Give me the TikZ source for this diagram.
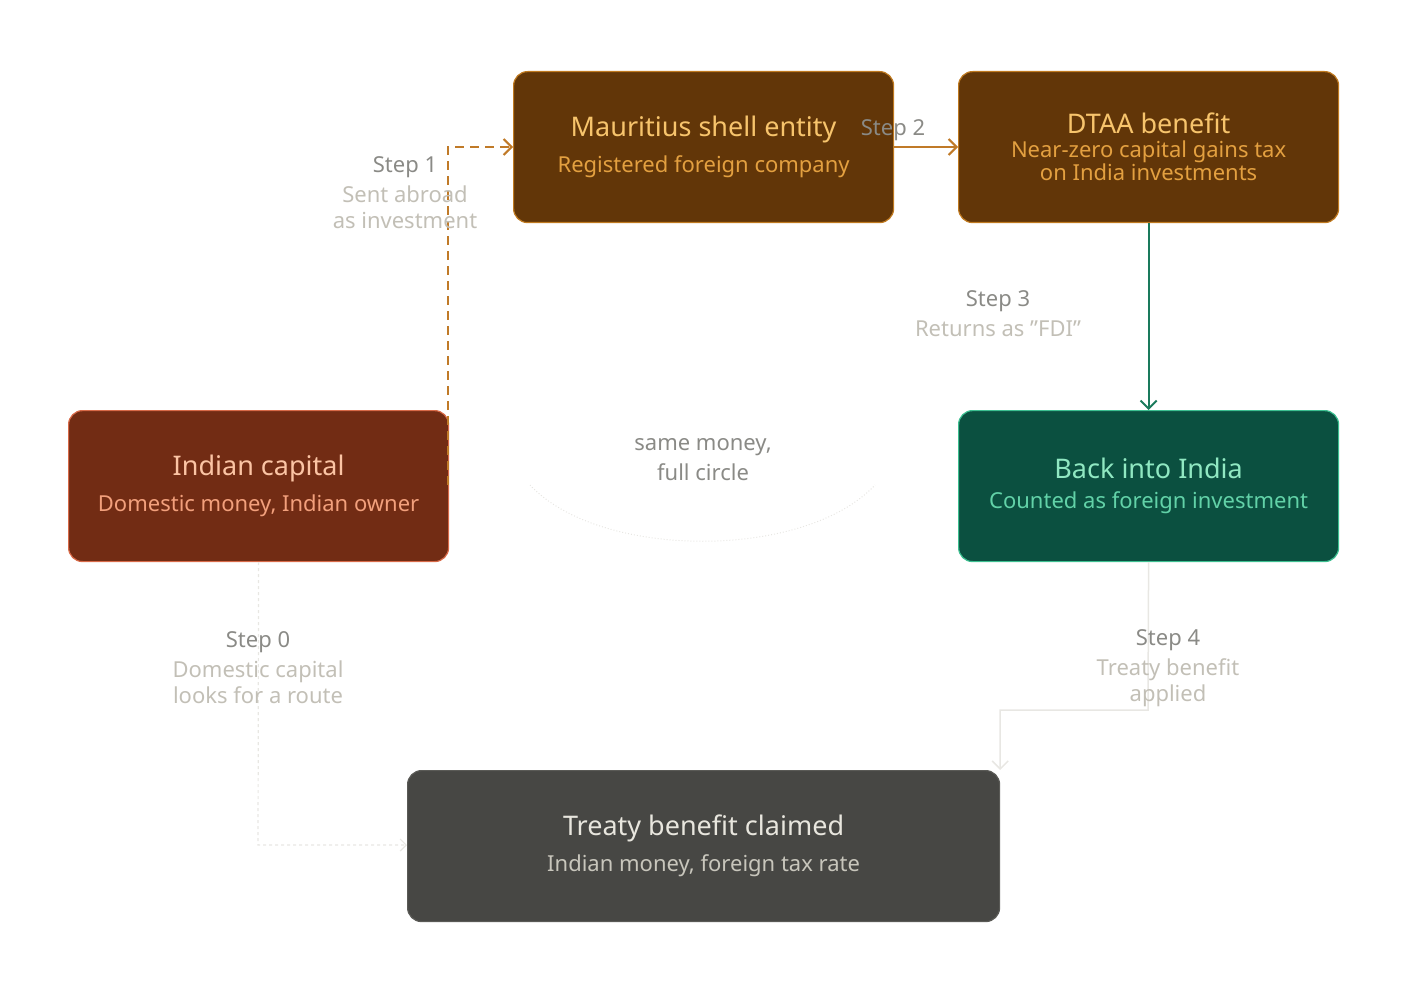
\documentclass[tikz,border=0pt]{standalone}
\usepackage{fontspec}
\setmainfont{Noto Sans}
\usetikzlibrary{arrows.meta}
\definecolor{orbox}{HTML}{623608}\definecolor{orline}{HTML}{C07A20}
\definecolor{ortit}{HTML}{F7C46C}\definecolor{orsub}{HTML}{E3A040}
\definecolor{rdbox}{HTML}{722C14}\definecolor{rdline}{HTML}{D86A48}
\definecolor{rdtit}{HTML}{FBC4A4}\definecolor{rdsub}{HTML}{F2A07C}
\definecolor{gnbox}{HTML}{0B5040}\definecolor{gnline}{HTML}{3CBF90}
\definecolor{gntit}{HTML}{90E8C2}\definecolor{gnsub}{HTML}{62D2A8}
\definecolor{gybox}{HTML}{474744}\definecolor{gyline}{HTML}{5A5A56}
\definecolor{gytit}{HTML}{E8E6DE}\definecolor{gysub}{HTML}{C8C6BC}
\definecolor{lblA}{HTML}{8A8A86}\definecolor{lblB}{HTML}{C2BFB6}
\definecolor{faint}{HTML}{E8E7E3}\definecolor{arrO}{HTML}{C07A28}\definecolor{arrG}{HTML}{1A7A5C}
\tikzset{x=1pt,y=-1pt,
 box/.style={draw=#1line,fill=#1box,rounded corners=14pt,line width=1.2pt,minimum width=380pt,minimum height=151pt,anchor=north west,align=center,inner sep=0pt},
 tt/.style={font=\fontsize{27}{32}\selectfont\bfseries},
 ss/.style={font=\fontsize{22}{30}\selectfont},
 lbl/.style={font=\fontsize{22}{30}\selectfont,align=center}}
\begin{document}
\begin{tikzpicture}
\useasboundingbox (0,0) rectangle (1408,981);
\node[box=or] (maur) at (513,71) {\textcolor{ortit}{\fontsize{27}{32}\selectfont\bfseries Mauritius shell entity}\\[12pt]\textcolor{orsub}{\fontsize{22}{28}\selectfont Registered foreign company}};
\node[box=or] (dtaa) at (958,71) {\textcolor{ortit}{\fontsize{27}{32}\selectfont\bfseries DTAA benefit}\\[6pt]\textcolor{orsub}{\fontsize{22}{38}\selectfont Near-zero capital gains tax}\\\textcolor{orsub}{\fontsize{22}{38}\selectfont on India investments}};
\node[box=rd] (ind) at (68,410) {\textcolor{rdtit}{\fontsize{27}{32}\selectfont\bfseries Indian capital}\\[12pt]\textcolor{rdsub}{\fontsize{22}{28}\selectfont Domestic money, Indian owner}};
\node[box=gn] (back) at (958,410) {\textcolor{gntit}{\fontsize{27}{32}\selectfont\bfseries Back into India}\\[12pt]\textcolor{gnsub}{\fontsize{22}{28}\selectfont Counted as foreign investment}};
\node[box=gy,minimum width=592pt] (tr) at (407,770) {\textcolor{gytit}{\fontsize{27}{32}\selectfont\bfseries Treaty benefit claimed}\\[12pt]\textcolor{gysub}{\fontsize{22}{28}\selectfont Indian money, foreign tax rate}};
% arc
\coordinate (a1) at (530,485); \coordinate (a2) at (875,485);
\draw[faint,dotted,line width=1pt] (a1) .. controls (600,560) and (805,560) .. (a2);
\node[lbl,text=lblA] (sm) at (703,460) {same money,\\full circle};
% step 0
\draw[faint,dashed,line width=1.2pt,-{Straight Barb[length=6pt]}] (ind.south) -- (258,845) -- (tr.west|-0,845);
\node[lbl] (l0) at (258,668) {\textcolor{lblA}{Step 0}\\\textcolor{lblB}{Domestic capital}\\[-4pt]\textcolor{lblB}{looks for a route}};
% step 1
\draw[arrO,dashed,dash pattern=on 9pt off 6pt,line width=2pt,-{Straight Barb[length=8pt]}] (448,485) -- (448,147) -- (maur.west|-0,147);
\node[lbl] (l1) at (405,193) {\textcolor{lblA}{Step 1}\\\textcolor{lblB}{Sent abroad}\\[-4pt]\textcolor{lblB}{as investment}};
% step 2
\draw[arrO,line width=2pt,-{Straight Barb[length=8pt]}] (maur.east|-0,147) -- (dtaa.west|-0,147);
\node[lbl,text=lblA] (l2) at (893,130) {Step 2};
% step 3
\draw[arrG,line width=2pt,-{Straight Barb[length=8pt]}] (dtaa.south) -- (back.north);
\node[lbl] (l3) at (998,314) {\textcolor{lblA}{Step 3}\\\textcolor{lblB}{Returns as "FDI"}};
% step 4
\draw[faint,line width=1.5pt,-{Straight Barb[length=8pt]}] (back.south) -- (1148,710) -- (1000,710) -- (tr.north east);
\node[lbl] (l4) at (1168,668) {\textcolor{lblA}{Step 4}\\\textcolor{lblB}{Treaty benefit}\\[-4pt]\textcolor{lblB}{applied}};
\end{tikzpicture}
\end{document}
